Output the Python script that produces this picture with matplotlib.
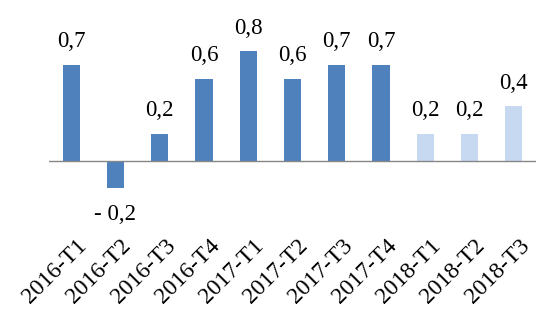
import matplotlib.pyplot as plt
from matplotlib.transforms import ScaledTranslation

# Données
periodes = ["2016-T1", "2016-T2", "2016-T3", "2016-T4", "2017-T1", "2017-T2",
            "2017-T3", "2017-T4", "2018-T1", "2018-T2", "2018-T3"]
valeurs = [0.7, -0.2, 0.2, 0.6, 0.8, 0.6, 0.7, 0.7, 0.2, 0.2, 0.4]
prevision = [False] * 8 + [True] * 3

plt.rcParams['font.family'] = ['Liberation Serif', 'DejaVu Serif']

fig = plt.figure(figsize=(5.58, 3.13), dpi=100)
W, H = 558, 313
ax = fig.add_axes([49 / W, (H - 230) / H, (536 - 49) / W, (230 - 20) / H])

couleurs = ['#C6D9F1' if p else '#4F81BD' for p in prevision]
x = range(len(periodes))
bars = ax.bar(x, valeurs, width=0.39, color=couleurs)

ax.axhline(0, color='#868686', lw=1)

for xi, v in zip(x, valeurs):
    txt = f"{abs(v):.1f}".replace('.', ',')
    if v < 0:
        ax.annotate("- " + txt, (xi, v), xytext=(0, -11), textcoords='offset points',
                    ha='center', va='top', fontsize=16.5)
    else:
        ax.annotate(txt, (xi, v), xytext=(0, 9), textcoords='offset points',
                    ha='center', va='bottom', fontsize=16.5)

ax.set_xlim(-0.5, len(periodes) - 0.5)
ax.set_ylim(-69 / 137.3, 141 / 137.3)
ax.set_xticks(list(x))
ax.set_xticklabels(periodes, rotation=45, ha='right', rotation_mode='anchor', fontsize=17)
ax.tick_params(axis='x', length=0, pad=4)
decal = ScaledTranslation(5 / 100, 0, fig.dpi_scale_trans)
for lab in ax.get_xticklabels():
    lab.set_transform(lab.get_transform() + decal)
ax.set_yticks([])
for s in ax.spines.values():
    s.set_visible(False)

fig.savefig("out.png", dpi=100)
